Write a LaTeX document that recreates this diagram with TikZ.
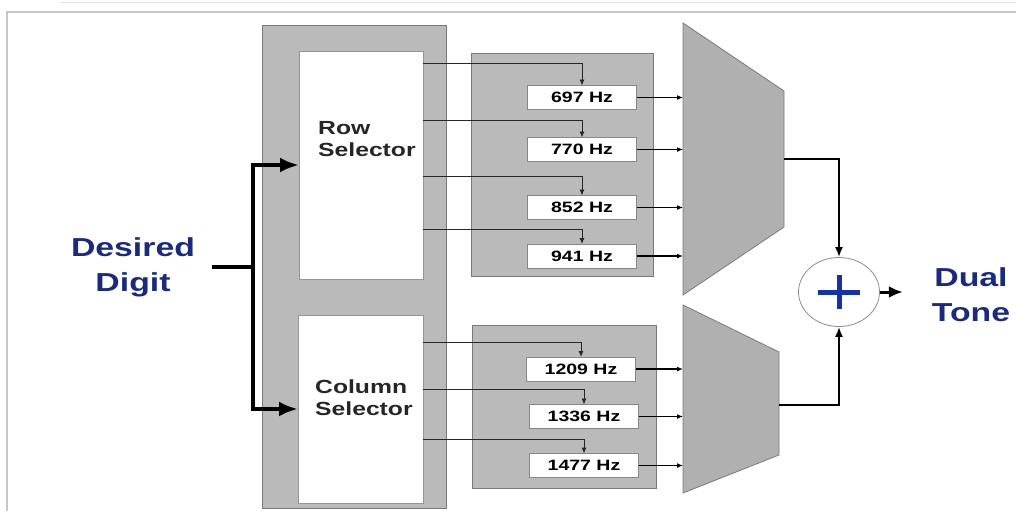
\documentclass[tikz,border=0pt]{standalone}
\usepackage{fontspec}
\setmainfont[FakeStretch=1.3]{Liberation Sans}
\usetikzlibrary{arrows.meta,calc,shapes.geometric}
\definecolor{PanelGray}{HTML}{BABABA}
\definecolor{PanelEdge}{HTML}{7A7A7A}
\definecolor{MuxGray}{HTML}{B0B0B0}
\definecolor{FrameGray}{HTML}{C8C8C8}
\definecolor{ToneBlue}{HTML}{1B2B7C}
\definecolor{PlusBlue}{HTML}{1733A3}

\begin{document}
\begin{tikzpicture}[x=1pt,y=-1pt,
      panel/.style={draw=PanelEdge,fill=PanelGray,line width=0.9pt,anchor=north west,inner sep=0pt,outer sep=0pt},
      selbox/.style={draw=PanelEdge!80,fill=white,line width=0.6pt,anchor=north west,inner sep=0pt,outer sep=0pt},
      filt/.style={draw=PanelEdge!90,fill=white,line width=0.6pt,minimum width=109pt,minimum height=24pt,inner sep=0pt,outer sep=0pt,font=\fontsize{15}{17}\selectfont\bfseries},
      seltext/.style={anchor=west,align=left,inner sep=0pt,font=\fontsize{19}{22}\selectfont\bfseries,text=black!85},
      bluetext/.style={align=center,inner sep=0pt,font=\fontsize{26}{35}\selectfont\bfseries,text=ToneBlue},
      mux/.style={draw=PanelEdge,fill=MuxGray,line width=0.8pt},
      sum/.style={ellipse,draw=black!45,fill=white,line width=0.8pt,minimum width=81pt,minimum height=69pt,inner sep=0pt},
      plus/.style={PlusBlue,line width=5pt},
      feed/.style={-{Latex[length=6pt,width=5pt]},line width=0.9pt,draw=black!85},
      tap/.style={-{Latex[length=6pt,width=5pt]},line width=1.6pt},
      mixout/.style={-{Latex[length=10pt,width=8pt]},line width=1.8pt},
      bus/.style={-{Latex[length=19pt,width=15pt]},line width=4pt,line join=miter},
      toneout/.style={-{Latex[length=14pt,width=12pt]},line width=3pt}
    ]
      \useasboundingbox (0,0) rectangle (1016,511);
      \draw[FrameGray,line width=2pt] (7,511) -- (7,12) -- (1016,12);
      \draw[FrameGray!50,line width=1pt] (60,3) -- (1016,3);

      \node[panel,minimum width=184pt,minimum height=483pt] (selpanel) at (262,25) {};
      \node[selbox,minimum width=124pt,minimum height=228pt] (rowsel) at (299,51) {};
      \node[selbox,minimum width=125pt,minimum height=188pt] (colsel) at (298,315) {};
      \node[seltext] (rowtxt) at (318,139) {Row\\Selector};
      \node[seltext] (coltxt) at (315,398) {Column\\Selector};

      \node[panel,minimum width=182pt,minimum height=223pt] (rowbank) at (471,53) {};
      \node[panel,minimum width=184pt,minimum height=163pt] (colbank) at (472,325) {};

      \foreach \f/\y in {697/97.5,770/149.5,852/207.5,941/256}
        \node[filt] (f\f) at (582,\y) {\f\ Hz};
      \foreach \f/\x/\y in {1209/581/369,1336/584/416.5,1477/584/465.5}
        \node[filt] (f\f) at (\x,\y) {\f\ Hz};

      \draw[mux] (683,23) -- (784,91) -- (784,227) -- (683,295) -- cycle;
      \draw[mux] (683,305) -- (779,352) -- (779,455) -- (683,493) -- cycle;
      \coordinate (muxa-in) at (683,159);
      \coordinate (muxa-out) at (784,159);
      \coordinate (muxb-in) at (683,405);
      \coordinate (muxb-out) at (779,405);

      \foreach \f/\y in {697/63,770/120,852/176,941/229}
        \draw[feed] (rowsel.east |- 0,\y) -| (f\f.north);
      \foreach \f/\y in {1209/342,1336/389,1477/439}
        \draw[feed] (colsel.east |- 0,\y) -| (f\f.north);
      \foreach \f in {697,770,852,941}
        \draw[tap] (f\f.east) -- (f\f.east -| muxa-in);
      \foreach \f in {1209,1336,1477}
        \draw[tap] (f\f.east) -- (f\f.east -| muxb-in);

      \node[sum] (sum) at (839,292) {};
      \draw[plus] ($(sum.center)+(-21,0)$) -- ($(sum.center)+(21,0)$);
      \draw[plus] ($(sum.center)+(0,-17)$) -- ($(sum.center)+(0,17)$);
      \draw[mixout] (muxa-out) -| (sum.north);
      \draw[mixout] (muxb-out) -| (sum.south);

      \node[bluetext,outer sep=17pt] (digit) at (133,267) {Desired\\Digit};
      \node[bluetext,outer sep=29pt] (tone) at (971,295) {Dual\\Tone};
      \coordinate (split) at (253,267);
      \draw[line width=4pt] (digit.east) -- (split);
      \draw[bus] (split) |- (rowsel.west);
      \draw[bus] (split) |- (colsel.west);
      \draw[toneout] (sum.east) -- (sum.east -| tone.west);
    \end{tikzpicture}
\end{document}
